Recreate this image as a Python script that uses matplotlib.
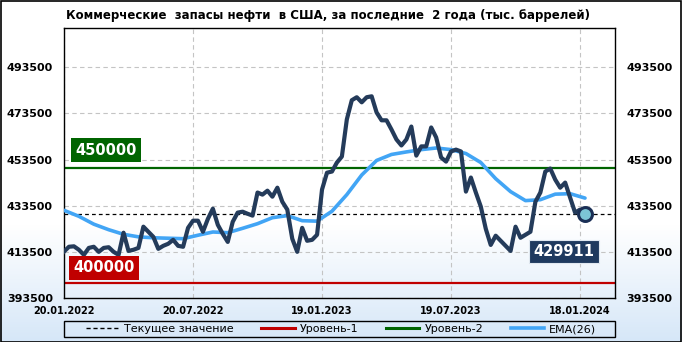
import numpy as np
import matplotlib
matplotlib.use("Agg")
import matplotlib.pyplot as plt
from matplotlib.lines import Line2D
from matplotlib.patches import Rectangle

# ---------------- data ----------------
title = "Коммерческие  запасы нефти  в США, за последние  2 года (тыс. баррелей)"
tick_labels = ["20.01.2022", "20.07.2022", "19.01.2023", "19.07.2023", "18.01.2024"]
tick_weeks = [0, 26, 52, 78, 104]

stocks = [413600, 415700, 415900, 414400, 412200, 415200, 415700, 413500, 415200, 415500,
          413500, 412200, 421800, 413900, 414400, 415200, 424400, 422200, 420000, 414800,
          416100, 417000, 418700, 416100, 415700, 423900, 427000, 427000, 422200, 427800,
          432200, 425200, 421300, 417800, 426500, 430500, 430900, 430000, 429200, 439200,
          438300, 440000, 437400, 441300, 435200, 431800, 419200, 413500, 423900, 418300,
          418700, 420900, 440500, 447800, 448300, 452200, 454800, 470900, 479200, 480500,
          478300, 480500, 480900, 473900, 470500, 470500, 466500, 462200, 459600, 462200,
          467800, 455200, 459200, 459200, 467400, 463100, 454400, 452600, 457000, 457800,
          457000, 439600, 445700, 439200, 433100, 423500, 416500, 420500, 418300, 416100,
          413900, 424400, 419600, 420900, 422200, 435200, 439200, 448300, 449600, 444800,
          441300, 443500, 437000, 430500, 431800, 429911]

ema_weeks = [0, 3, 6, 9, 12, 15, 18, 21, 24, 27, 30, 33, 36, 39, 42, 45, 48, 51,
             54, 57, 60, 63, 66, 69, 72, 75, 78, 81, 84, 87, 90, 93, 96, 99, 102, 105]
ema26 = [431500, 428900, 425500, 423100, 421100, 420000, 419600, 419400, 419200, 420700,
         422100, 421800, 423700, 425700, 428300, 429200, 427000, 426800, 431100, 438300,
         446800, 453100, 455700, 456800, 457800, 458500, 457800, 456100, 452200, 445200,
         439600, 435700, 436100, 438500, 438700, 436800]

level1 = 400000
level2 = 450000
current = stocks[-1]
yticks = [393500, 413500, 433500, 453500, 473500, 493500]

# ---------------- figure ----------------
W, H = 682, 342
fig = plt.figure(figsize=(W / 100, H / 100), dpi=100)

# background gradient
bg = fig.add_axes([0, 0, 1, 1], zorder=-10)
n = 256
t = np.linspace(0, 1, n)  # 0 top -> 1 bottom
a = np.clip((t - 0.66) / 0.34, 0, 1)
top_c = np.array([1.0, 1.0, 1.0])
bot_c = np.array([0xd6, 0xe7, 0xf8]) / 255
grad = (top_c[None, :] * (1 - a[:, None]) + bot_c[None, :] * a[:, None])[:, None, :]
bg.imshow(grad, aspect="auto", extent=[0, 1, 0, 1])
bg.set_xlim(0, 1); bg.set_ylim(0, 1)
bg.axis("off")
bg.add_patch(Rectangle((0.5 / W, 0.5 / H), 1 - 1.5 / W, 1 - 1.5 / H, fill=False,
                       edgecolor="black", linewidth=1.2, transform=bg.transAxes))

L, R, T, B = 64, 615, 28, 298
ax = fig.add_axes([L / W, (H - B) / H, (R - L) / W, (B - T) / H])
ax.set_facecolor("none")

x = np.arange(len(stocks))
ax.set_xlim(0, (R - L) / 4.962)
ax.set_ylim(393500, 510500)

ax.set_yticks(yticks)
ax.set_yticklabels([str(v) for v in yticks])
ax.set_xticks(tick_weeks)
ax.set_xticklabels(tick_labels)
ax.tick_params(axis="y", length=0, pad=8, labelsize=8, left=True, right=True,
               labelleft=True, labelright=True)
ax.tick_params(axis="x", length=0, pad=6, labelsize=7)
for lab in ax.get_yticklabels() + ax.get_xticklabels():
    lab.set_fontweight("bold")
ax.grid(True, color="#c4c4c4", linestyle=(0, (4, 3)), linewidth=0.8)
ax.set_axisbelow(True)
for s in ax.spines.values():
    s.set_linewidth(1.0)
    s.set_color("black")

ax.axhline(level2, color="#006400", linewidth=1.6, zorder=2)
ax.axhline(level1, color="#c00000", linewidth=1.6, zorder=2)
ax.axhline(current, color="black", linewidth=0.9, linestyle=(0, (3, 2.5)), zorder=2)

ax.plot(ema_weeks, ema26, color="#42a5f5", linewidth=2.6, zorder=3, solid_capstyle="round")
ax.plot(x, stocks, color="#243b5a", linewidth=3.0, zorder=4, solid_joinstyle="round")
ax.plot([x[-1]], [stocks[-1]], "o", markersize=10, markerfacecolor="#7cc6d6",
        markeredgecolor="#1a2f55", markeredgewidth=2.2, zorder=5)

ax.text(8.5, 457600, f"{level2}", color="white", fontsize=10.5, fontweight="bold",
        ha="center", va="center", zorder=6,
        bbox=dict(boxstyle="square,pad=0.3", facecolor="#006400", edgecolor="none"))
ax.text(8.1, 406500, f"{level1}", color="white", fontsize=10.5, fontweight="bold",
        ha="center", va="center", zorder=6,
        bbox=dict(boxstyle="square,pad=0.3", facecolor="#c00000", edgecolor="none"))
ax.text(100.7, 413700, f"{current}", color="white", fontsize=10.5, fontweight="bold",
        ha="center", va="center", zorder=6,
        bbox=dict(boxstyle="square,pad=0.3", facecolor="#1f3a5f", edgecolor="#e0e8f0",
                  linewidth=0.8))

fig.text(327.5 / W, (H - 15) / H, title, ha="center", va="center",
         fontsize=8.5, fontweight="bold")

handles = [
    Line2D([], [], color="black", linestyle=(0, (3, 2)), linewidth=1.0),
    Line2D([], [], color="#c00000", linewidth=2.2),
    Line2D([], [], color="#006400", linewidth=2.2),
    Line2D([], [], color="#42a5f5", linewidth=2.6),
]
labels = ["Текущее значение", "Уровень-1", "Уровень-2", "EMA(26)"]
fig.legend(handles, labels, loc="center", bbox_to_anchor=(341 / W, (H - 329) / H),
           ncol=4, frameon=False, fontsize=8, handlelength=3.0, handletextpad=0.45,
           columnspacing=2.5, borderpad=0.0)
bg.add_patch(Rectangle((L / W, (H - 337) / H), (R - L) / W, 16 / H, fill=False,
                       edgecolor="black", linewidth=1.0, transform=bg.transAxes))

fig.savefig("out.png", dpi=100)
